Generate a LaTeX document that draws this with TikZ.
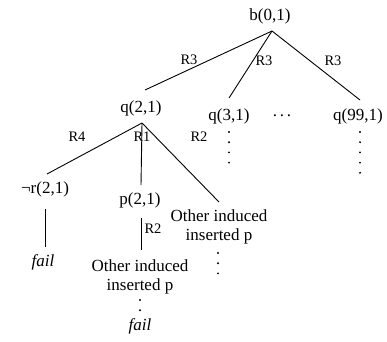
\documentclass[tikz,border=0pt]{standalone}
\usepackage{fontspec}
\setmainfont{Liberation Serif}
\begin{document}
\begin{tikzpicture}[x=1pt,y=-1pt,
  term/.style={font=\fontsize{17}{19}\selectfont, inner sep=0pt, align=center},
  rulelbl/.style={font=\fontsize{14.5}{16}\selectfont, inner sep=0pt},
  branch/.style={line width=0.9pt, draw=black},
  dotcol/.style={line width=2.1pt, line cap=round, dash pattern=on 0pt off 10.2pt}]
\useasboundingbox (0,0) rectangle (387,341);
\fill[white] (0,0) rectangle (387,341);

% goals
\node[term] (b)   at (270,16)  {b(0,1)};
\node[term] (q2)  at (141,108) {q(2,1)};
\node[term] (q3)  at (229,116) {q(3,1)};
\node[term] (etc) at (282,116) {.\,.\,.};
\node[term] (q99) at (358,116) {q(99,1)};
\node[term] (nr)  at (45,189)  {¬r(2,1)};
\node[term] (p)   at (140,200) {p(2,1)};
\node[term] (oi1) at (219,227) {Other induced\\inserted p};
\node[term] (f1)  at (43,262)  {\itshape fail};
\node[term] (oi2) at (140,277) {Other induced\\inserted p};
\node[term] (f2)  at (140,326) {\itshape fail};

% branch ends
\coordinate (b-foot)   at (272,31);
\coordinate (q2-head)  at (145,90);
\coordinate (q3-head)  at (229,98);
\coordinate (q99-head) at (360,100);
\coordinate (q2-foot)  at (142,123);
\coordinate (nr-head)  at (47,174);
\coordinate (p-head)   at (141,185);
\coordinate (oi1-head) at (219,202);
\coordinate (nr-foot)  at (45,209);
\coordinate (f1-head)  at (45,247);
\coordinate (p-foot)   at (141,218);
\coordinate (oi2-head) at (141,250);

\draw[branch] (b-foot) -- (q2-head);
\draw[branch] (b-foot) -- (q3-head);
\draw[branch] (b-foot) -- (q99-head);
\draw[branch] (q2-foot) -- (nr-head);
\draw[branch] (q2-foot) -- (p-head);
\draw[branch] (q2-foot) -- (oi1-head);
\draw[branch] (nr-foot) -- (f1-head);
\draw[branch] (p-foot) -- (oi2-head);

% rule labels
\node[rulelbl] (r3a) at (189,60)  {R3};
\node[rulelbl] (r3b) at (264,61)  {R3};
\node[rulelbl] (r3c) at (333,61)  {R3};
\node[rulelbl] (r4)  at (77,137)  {R4};
\node[rulelbl] (r1)  at (142,137) {R1};
\node[rulelbl] (r2a) at (199,137) {R2};
\node[rulelbl] (r2b) at (153,229) {R2};

% continuations
\coordinate (q3-d0)  at (229,132);  \coordinate (q3-d1)  at (229,163.5);
\coordinate (q99-d0) at (360,132);  \coordinate (q99-d1) at (360,173.5);
\coordinate (oi1-d0) at (218,253);  \coordinate (oi1-d1) at (218,274);
\coordinate (oi2-d0) at (140,300);  \coordinate (oi2-d1) at (140,311);
\draw[dotcol] (q3-d0) -- (q3-d1);
\draw[dotcol] (q99-d0) -- (q99-d1);
\draw[dotcol] (oi1-d0) -- (oi1-d1);
\draw[dotcol] (oi2-d0) -- (oi2-d1);
\end{tikzpicture}
\end{document}
